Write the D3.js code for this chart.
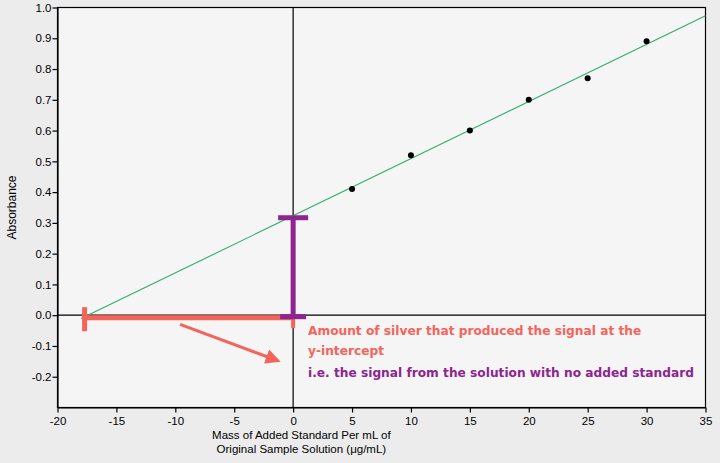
<!DOCTYPE html>
<html><head><meta charset="utf-8">
<script src="https://cdn.jsdelivr.net/npm/d3@7"></script>
<style>
html,body{margin:0;padding:0;background:#ececec;}
svg{display:block;}
</style></head>
<body>
<script>
// Data
const xValues = [5, 10, 15, 20, 25, 30];
const absorbance = [0.41, 0.52, 0.60, 0.70, 0.77, 0.89];
const fitLineX = [-18, 35];
const fitLineY = [-0.011, 0.973];
const xTicks = [-20, -15, -10, -5, 0, 5, 10, 15, 20, 25, 30, 35];
const yTicks = [-0.2, -0.1, 0.0, 0.1, 0.2, 0.3, 0.4, 0.5, 0.6, 0.7, 0.8, 0.9, 1.0];
const xIntercept = -17.7;
const yIntercept = 0.32;
const annotationLines = [
  "Amount of silver that produced the signal at the",
  "y-intercept",
  "i.e. the signal from the solution with no added standard"
];

const W = 720, H = 463;
const margin = {left: 57.5, right: 14.5, top: 7.5, bottom: 55.5};
const svg = d3.select("body").append("svg").attr("width", W).attr("height", H);
svg.append("rect").attr("width", W).attr("height", H).attr("fill", "#ececec");

const x = d3.scaleLinear().domain([-20, 35]).range([margin.left, W - margin.right]);
const y = d3.scaleLinear().domain([-0.3, 1.0]).range([H - margin.bottom, margin.top]);

// plot area
svg.append("rect").attr("x", x(-20)).attr("y", y(1.0))
  .attr("width", x(35) - x(-20)).attr("height", y(-0.3) - y(1.0))
  .attr("fill", "#f5f5f5").attr("stroke", "#000").attr("stroke-width", 1.2);

// zero lines
svg.append("line").attr("x1", x(0)).attr("x2", x(0)).attr("y1", y(1.0)).attr("y2", y(-0.3))
  .attr("stroke", "#000").attr("stroke-width", 1.2);
svg.append("line").attr("x1", x(-20)).attr("x2", x(35)).attr("y1", y(0)).attr("y2", y(0))
  .attr("stroke", "#000").attr("stroke-width", 1.2);

// axes (hyphen-minus like the reference)
const fmtY = d => d3.format(".1f")(d).replace("\u2212", "-");
const fmtX = d => d3.format("d")(d).replace("\u2212", "-");
const gx = svg.append("g").attr("transform", `translate(0,${y(-0.3)})`)
  .call(d3.axisBottom(x).tickValues(xTicks).tickSize(5).tickSizeOuter(0).tickFormat(fmtX));
const gy = svg.append("g").attr("transform", `translate(${x(-20)},0)`)
  .call(d3.axisLeft(y).tickValues(yTicks).tickSize(5).tickSizeOuter(0).tickFormat(fmtY));
[gx, gy].forEach(g => {
  g.select(".domain").attr("stroke", "#000").attr("stroke-width", 1.2);
  g.selectAll(".tick line").attr("stroke", "#000").attr("stroke-width", 1.2);
  g.selectAll(".tick text").attr("fill", "#000")
    .style("font-family", "'Liberation Sans', Arial, sans-serif").style("font-size", "11.5px");
});
gx.selectAll(".tick text").attr("y", 17).attr("dy", 0);
gy.selectAll(".tick text").attr("x", -6);

// axis titles
const titleFont = "'Liberation Sans', Arial, sans-serif";
const xt = svg.append("text").attr("text-anchor", "middle")
  .style("font-family", titleFont).style("font-size", "11.5px").attr("fill", "#000");
xt.append("tspan").attr("x", x(0.7)).attr("y", 438.5).text("Mass of Added Standard Per mL of");
xt.append("tspan").attr("x", x(0.7)).attr("y", 453).text("Original Sample Solution (\u03BCg/mL)");
svg.append("text").attr("transform", `translate(16,${y(0.35)}) rotate(-90)`)
  .attr("text-anchor", "middle").style("font-family", titleFont).style("font-size", "12px")
  .attr("fill", "#000").text("Absorbance");

// fit line
svg.append("line").attr("x1", x(fitLineX[0])).attr("y1", y(fitLineY[0]))
  .attr("x2", x(fitLineX[1])).attr("y2", y(fitLineY[1]))
  .attr("stroke", "#2fae6c").attr("stroke-width", 1.1);

// points
svg.selectAll("circle.pt").data(xValues).enter().append("circle")
  .attr("class", "pt").attr("cx", d => x(d)).attr("cy", (d, i) => y(absorbance[i]))
  .attr("r", 3).attr("fill", "#000");

// annotations
const red = "#f5645a", purple = "#8d2490";
svg.append("line").attr("x1", x(xIntercept)).attr("x2", x(0)).attr("y1", y(0) + 2.5).attr("y2", y(0) + 2.5)
  .attr("stroke", red).attr("stroke-width", 5);
svg.append("line").attr("x1", x(xIntercept)).attr("x2", x(xIntercept)).attr("y1", y(0) - 8).attr("y2", y(0) + 16)
  .attr("stroke", red).attr("stroke-width", 5);
svg.append("line").attr("x1", x(0)).attr("x2", x(0)).attr("y1", y(0)).attr("y2", y(0) + 13)
  .attr("stroke", red).attr("stroke-width", 4);
svg.append("line").attr("x1", x(0)).attr("x2", x(0)).attr("y1", y(yIntercept)).attr("y2", y(0) + 3)
  .attr("stroke", purple).attr("stroke-width", 5);
svg.append("line").attr("x1", x(0) - 15).attr("x2", x(0) + 15).attr("y1", y(yIntercept) + 1).attr("y2", y(yIntercept) + 1)
  .attr("stroke", purple).attr("stroke-width", 5);
svg.append("line").attr("x1", x(0) - 13).attr("x2", x(0) + 13).attr("y1", y(0) + 1.5).attr("y2", y(0) + 1.5)
  .attr("stroke", purple).attr("stroke-width", 5);

// arrow
svg.append("defs").append("marker").attr("id", "ah").attr("viewBox", "0 0 10 10")
  .attr("refX", 8).attr("refY", 5).attr("markerWidth", 5).attr("markerHeight", 5)
  .attr("markerUnits", "strokeWidth").attr("orient", "auto")
  .append("path").attr("d", "M0,0 L10,5 L0,10 z").attr("fill", red);
svg.append("line").attr("x1", x(-9.6)).attr("y1", y(-0.03)).attr("x2", x(-1.3)).attr("y2", y(-0.148))
  .attr("stroke", red).attr("stroke-width", 3).attr("marker-end", "url(#ah)");

// text
const annFont = "'DejaVu Sans', Verdana, sans-serif";
const annColors = [red, red, purple];
const annY = [335, 355, 377];
annotationLines.forEach((t, i) => {
  svg.append("text").attr("x", 308).attr("y", annY[i])
    .style("font-family", annFont).style("font-size", "12.2px").style("font-weight", "bold")
    .attr("fill", annColors[i]).text(t);
});
</script>
</body></html>
